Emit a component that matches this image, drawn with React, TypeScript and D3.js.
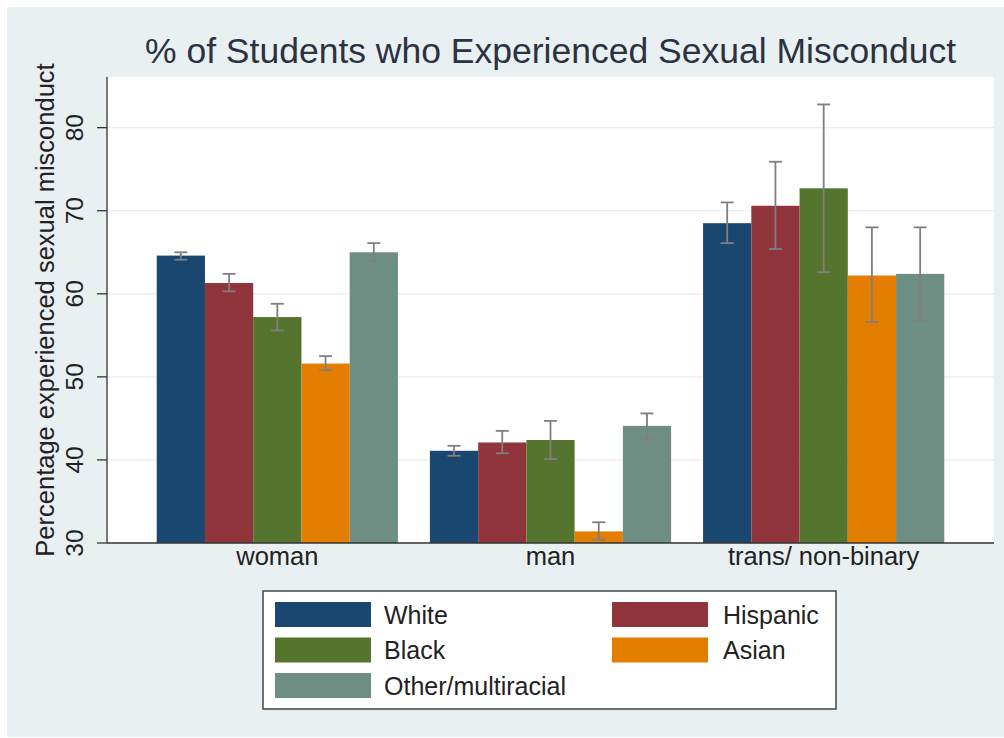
import React from "react";
import * as d3 from "d3";

const categories = ["woman", "man", "trans/ non-binary"];
const races = ["White", "Hispanic", "Black", "Asian", "Other/multiracial"];
const raceColors = ["#1a476f", "#90353b", "#55752f", "#e37e00", "#6e8e84"];

const whiteMean = [64.6, 41.1, 68.5];
const whiteLo = [64.1, 40.5, 66.1];
const whiteHi = [65.0, 41.7, 71.0];
const hispanicMean = [61.3, 42.1, 70.6];
const hispanicLo = [60.3, 40.8, 65.4];
const hispanicHi = [62.4, 43.5, 75.9];
const blackMean = [57.2, 42.4, 72.7];
const blackLo = [55.6, 40.1, 62.6];
const blackHi = [58.8, 44.7, 82.8];
const asianMean = [51.6, 31.4, 62.2];
const asianLo = [50.8, 30.4, 56.6];
const asianHi = [52.5, 32.5, 68.0];
const otherMean = [65.0, 44.1, 62.4];
const otherLo = [63.9, 42.6, 56.8];
const otherHi = [66.1, 45.6, 68.0];

const yTicks = [30, 40, 50, 60, 70, 80];
const title = "% of Students who Experienced Sexual Misconduct";
const yTitle = "Percentage experienced sexual misconduct";

const series = [
  { mean: whiteMean, lo: whiteLo, hi: whiteHi },
  { mean: hispanicMean, lo: hispanicLo, hi: hispanicHi },
  { mean: blackMean, lo: blackLo, hi: blackHi },
  { mean: asianMean, lo: asianLo, hi: asianHi },
  { mean: otherMean, lo: otherLo, hi: otherHi },
];

const W = 1004;
const H = 738;
const plotL = 107;
const plotR = 994;
const plotT = 77;
const plotB = 543;
const FONT = "'Liberation Sans', Arial, Helvetica, sans-serif";

export default function App() {
  const y = d3.scaleLinear().domain([30, 86.1]).range([plotB, plotT]);
  const x0 = d3
    .scaleBand<string>()
    .domain(categories)
    .range([plotL, plotR])
    .paddingInner(0.117)
    .paddingOuter(0.182);
  const x1 = d3
    .scaleBand<string>()
    .domain(races)
    .range([0, x0.bandwidth()])
    .padding(0);
  const color = d3.scaleOrdinal<string, string>().domain(races).range(raceColors);

  const capW = 13;
  const errColor = "#7f7f7f";

  const legendRows = [
    [0, 1],
    [2, 3],
    [4],
  ];
  const legX = 263;
  const legY = 591;
  const legW = 573;
  const legH = 118;
  const colSwatchX = [275, 612];
  const colTextX = [384, 723];
  const rowY0 = 602;
  const rowStep = 35.5;
  const swW = 96;
  const swH = 25;

  return (
    <svg
      width={W}
      height={H}
      style={{ position: "absolute", left: 0, top: 0, display: "block" }}
      fontFamily={FONT}
    >
      <rect x={0} y={0} width={W} height={H} fill="#ffffff" />
      <rect x={7} y={7} width={W - 7} height={H - 8} fill="#e9f0f2" />
      <rect x={plotL} y={plotT} width={plotR - plotL} height={plotB - plotT} fill="#ffffff" />

      {/* grid */}
      {yTicks
        .filter((t) => t > 30)
        .map((t) => (
          <line
            key={"g" + t}
            x1={plotL}
            x2={plotR}
            y1={y(t)}
            y2={y(t)}
            stroke="#e6edf0"
            strokeWidth={1.2}
          />
        ))}

      {/* bars */}
      {categories.map((c, ci) => (
        <g key={c} transform={`translate(${x0(c)},0)`}>
          {races.map((r, ri) => (
            <rect
              key={r}
              x={x1(r)}
              y={y(series[ri].mean[ci])}
              width={x1.bandwidth()}
              height={y(30) - y(series[ri].mean[ci])}
              fill={color(r)}
            />
          ))}
        </g>
      ))}

      {/* error bars */}
      {categories.map((c, ci) => (
        <g key={"e" + c} transform={`translate(${x0(c)},0)`}>
          {races.map((r, ri) => {
            const cx = (x1(r) as number) + x1.bandwidth() / 2;
            const lo = y(series[ri].lo[ci]);
            const hi = y(series[ri].hi[ci]);
            return (
              <g key={r} stroke={errColor} strokeWidth={1.8}>
                <line x1={cx} x2={cx} y1={lo} y2={hi} />
                <line x1={cx - capW / 2} x2={cx + capW / 2} y1={lo} y2={lo} />
                <line x1={cx - capW / 2} x2={cx + capW / 2} y1={hi} y2={hi} />
              </g>
            );
          })}
        </g>
      ))}

      {/* axes */}
      <line x1={plotL} x2={plotL} y1={plotT} y2={plotB} stroke="#333" strokeWidth={1.3} />
      <line x1={plotL} x2={plotR} y1={plotB} y2={plotB} stroke="#333" strokeWidth={1.3} />
      {yTicks.map((t) => (
        <g key={"t" + t}>
          <line x1={plotL - 10} x2={plotL} y1={y(t)} y2={y(t)} stroke="#333" strokeWidth={1.3} />
          <text
            transform={`translate(83,${y(t)}) rotate(-90)`}
            textAnchor="middle"
            fontSize={24.5}
            fill="#222"
          >
            {t}
          </text>
        </g>
      ))}
      {categories.map((c) => (
        <text
          key={"xl" + c}
          x={(x0(c) as number) + x0.bandwidth() / 2}
          y={565}
          textAnchor="middle"
          fontSize={25.5}
          fill="#222"
        >
          {c}
        </text>
      ))}

      {/* y title */}
      <text
        transform={`translate(54,${(plotT + plotB) / 2}) rotate(-90)`}
        textAnchor="middle"
        fontSize={25.5}
        fill="#222"
      >
        {yTitle}
      </text>

      {/* title */}
      <text
        x={(plotL + plotR) / 2}
        y={63}
        textAnchor="middle"
        fontSize={35.5}
        fill="#2b3242"
      >
        {title}
      </text>

      {/* legend */}
      <rect x={legX} y={legY} width={legW} height={legH} fill="#ffffff" stroke="#444" strokeWidth={1.5} />
      {legendRows.map((row, rIdx) =>
        row.map((ri, cIdx) => (
          <g key={"l" + ri}>
            <rect
              x={colSwatchX[cIdx]}
              y={rowY0 + rIdx * rowStep}
              width={swW}
              height={swH}
              fill={color(races[ri])}
            />
            <text
              x={colTextX[cIdx]}
              y={rowY0 + rIdx * rowStep + swH / 2 + 9}
              fontSize={25}
              fill="#222"
            >
              {races[ri]}
            </text>
          </g>
        ))
      )}
    </svg>
  );
}
